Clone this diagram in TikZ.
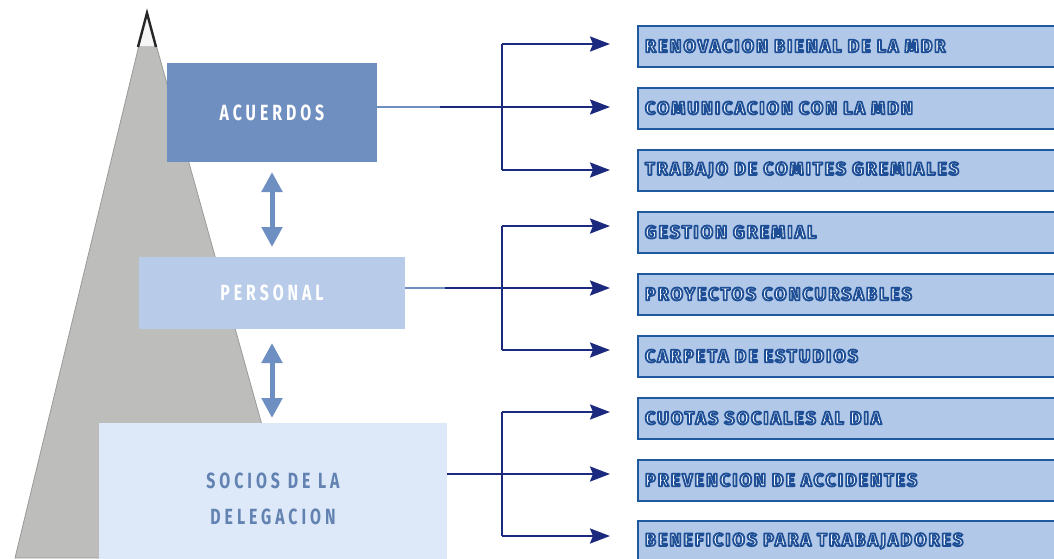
\documentclass[tikz,border=0pt]{standalone}
\usepackage{fontspec}
\usetikzlibrary{arrows.meta}
\newfontfamily\lblfont{Fira Sans}[FakeStretch=0.72,LetterSpace=18]
\newfontfamily\itemfont{Fira Sans}[LetterSpace=11]
\definecolor{pyr}{HTML}{BDBDBB}
\definecolor{pyredge}{HTML}{9A9A98}
\definecolor{acu}{HTML}{6F8FC0}
\definecolor{per}{HTML}{B8CCE9}
\definecolor{soc}{HTML}{DDE9F8}
\definecolor{soctext}{HTML}{6282B2}
\definecolor{dbl}{HTML}{6D8FC2}
\definecolor{navy}{HTML}{1B2A7E}
\definecolor{itemfill}{HTML}{B1C8E8}
\definecolor{itemedge}{HTML}{1F5A9E}
\tikzset{
  lvl/.style={inner sep=0pt, font=\lblfont\bfseries\fontsize{22}{26}\selectfont},
  item/.style={draw=itemedge, line width=2pt, fill=itemfill, anchor=west,
    minimum width=440pt, minimum height=41pt, text width=426pt, align=left,
    inner xsep=7pt, inner ysep=0pt, text=white,
    font=\itemfont\bfseries\fontsize{18}{22}\selectfont},
  navyline/.style={draw=navy, line width=2.4pt},
  lightline/.style={draw=acu, line width=1.6pt},
  navyarrow/.style={navyline, -{Stealth[length=20pt,width=15pt,inset=3pt]}},
  dblarrow/.style={draw=dbl, line width=5pt,
    {Triangle[length=20pt,width=20pt]}-{Triangle[length=20pt,width=20pt]}}
}
% outlined text: fill white (current colour), stroke dark blue
\newcommand{\itm}[1]{\special{pdf:literal direct 2 Tr 1.8 w 1 j 0.118 0.310 0.588 RG}#1\special{pdf:literal direct 0 Tr 0.4 w}}
\begin{document}
\begin{tikzpicture}[x=1pt,y=-1pt]
\useasboundingbox (0,0) rectangle (1054,558);
% pyramid
\fill[pyr, draw=pyredge, line width=0.8pt] (147,12) -- (299,558) -- (15,558) -- cycle;
\fill[white!85!pyr] (147,14) -- (156,46) -- (138,46) -- cycle;
\draw[black!85, line width=2.4pt, line join=miter] (138,47) -- (147,13) -- (156,47);
% level boxes
\node[lvl, fill=acu, minimum width=210pt, minimum height=99pt, text=white] (acu) at (272,112.5) {ACUERDOS};
\node[lvl, fill=per, minimum width=266pt, minimum height=72pt, text=white] (per) at (272,293) {PERSONAL};
\node[fill=soc, minimum width=348pt, minimum height=150pt, inner sep=0pt] (soc) at (273,498) {};
\node[lvl, text=soctext, align=center, font=\lblfont\bfseries\fontsize{22}{36}\selectfont] (soctxt) at (273,499) {SOCIOS DE LA\\DELEGACION};
% double arrows
\coordinate (d1a) at (272,172);
\coordinate (d1b) at (272,247);
\coordinate (d2a) at (272,343);
\coordinate (d2b) at (272,418);
\draw[dblarrow] (d1a) -- (d1b);
\draw[dblarrow] (d2a) -- (d2b);
% right items
\node[item] (r1) at (637,46) {\itm{RENOVACION BIENAL DE LA MDR}};
\node[item] (r2) at (637,108) {\itm{COMUNICACION CON LA MDN}};
\node[item] (r3) at (637,170) {\itm{TRABAJO DE COMITES GREMIALES}};
\node[item] (r4) at (637,232) {\itm{GESTION GREMIAL}};
\node[item] (r5) at (637,294) {\itm{PROYECTOS CONCURSABLES}};
\node[item] (r6) at (637,356) {\itm{CARPETA DE ESTUDIOS}};
\node[item] (r7) at (637,418) {\itm{CUOTAS SOCIALES AL DIA}};
\node[item] (r8) at (637,480) {\itm{PREVENCION DE ACCIDENTES}};
\node[item] (r9) at (637,541) {\itm{BENEFICIOS PARA TRABAJADORES}};
% connectors group 1
\coordinate (a1) at (440,107);
\coordinate (j1) at (502,107);
\coordinate (t1) at (502,44);
\coordinate (b1) at (502,170);
\draw[lightline] (acu.east |- a1) -- (a1);
\draw[navyline] (a1) -- (j1);
\draw[navyline] (t1) -- (b1);
\draw[navyarrow] (t1) -- ([xshift=-27pt]r1.west |- t1);
\draw[navyarrow] (j1) -- ([xshift=-27pt]r2.west |- j1);
\draw[navyarrow] (b1) -- ([xshift=-27pt]r3.west |- b1);
% group 2
\coordinate (a2) at (445,288);
\coordinate (j2) at (502,288);
\coordinate (t2) at (502,226);
\coordinate (b2) at (502,350);
\draw[lightline] (per.east |- a2) -- (a2);
\draw[navyline] (a2) -- (j2);
\draw[navyline] (t2) -- (b2);
\draw[navyarrow] (t2) -- ([xshift=-27pt]r4.west |- t2);
\draw[navyarrow] (j2) -- ([xshift=-27pt]r5.west |- j2);
\draw[navyarrow] (b2) -- ([xshift=-27pt]r6.west |- b2);
% group 3
\coordinate (j3) at (502,474);
\coordinate (t3) at (502,412);
\coordinate (b3) at (502,536);
\draw[navyline] (soc.east |- j3) -- (j3);
\draw[navyline] (t3) -- (b3);
\draw[navyarrow] (t3) -- ([xshift=-27pt]r7.west |- t3);
\draw[navyarrow] (j3) -- ([xshift=-27pt]r8.west |- j3);
\draw[navyarrow] (b3) -- ([xshift=-27pt]r9.west |- b3);
\end{tikzpicture}
\end{document}
